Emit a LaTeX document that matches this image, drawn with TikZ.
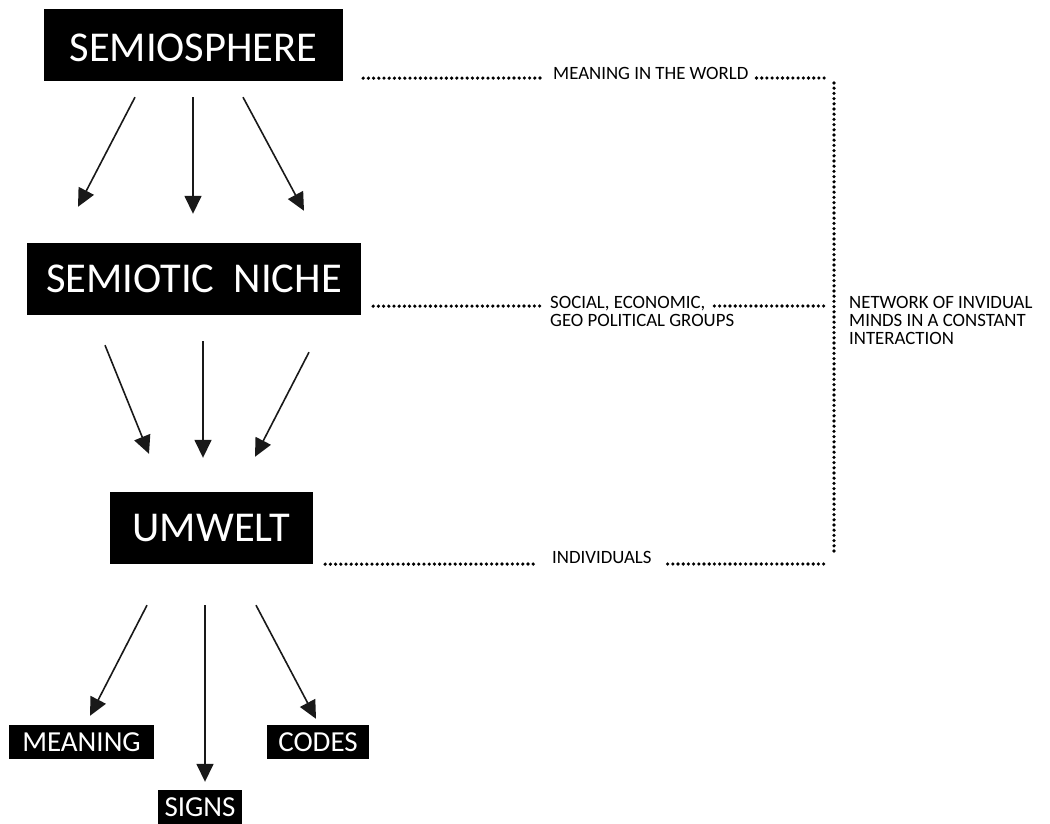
\documentclass[tikz,border=0pt]{standalone}
\usepackage{fontspec}
\setmainfont{Carlito}
\usetikzlibrary{positioning,arrows.meta}

\begin{document}
\begin{tikzpicture}[x=1pt, y=-1pt, >={Triangle[length=18pt,width=17pt]}]
      \tikzset{
        bigbox/.style={fill=black, text=white, inner sep=0pt, minimum height=72pt, font=\fontsize{42.5}{42.5}\selectfont},
        smallbox/.style={fill=black, text=white, inner sep=0pt, minimum height=34pt, font=\fontsize{29}{29}\selectfont},
        note/.style={inner sep=0pt, anchor=base west, align=left, font=\fontsize{18.8}{18}\selectfont},
        arrow/.style={->, line width=1.6pt, draw=black!90},
        dotline/.style={line width=3.6pt, line cap=round, dash pattern=on 0pt off 5.2pt}
      }
      \useasboundingbox (0,0) rectangle (1050,824);

      \node[bigbox, minimum width=299pt, text height=33pt, text depth=0pt] (sphere) at (193.5,45) {SEMIOSPHERE};
      \node[bigbox, minimum width=334pt] (niche) at (194,279) {SEMIOTIC\ \ NICHE};
      \node[bigbox, minimum width=203pt] (umwelt) at (211.5,528) {UMWELT};
      \node[smallbox, minimum width=145pt] (meaning) at (81.5,742) {MEANING};
      \node[smallbox, minimum width=102pt] (codes) at (318,742) {CODES};
      \node[smallbox, minimum width=84pt] (signs) at (200,807) {SIGNS};

      \node[note] (world) at (553,80) {MEANING IN THE WORLD};
      \node[note] (social) at (550,308) {SOCIAL, ECONOMIC,};
      \node[note] (geo) at (550,326) {GEO POLITICAL GROUPS};
      \node[note] (indiv) at (552,563) {INDIVIDUALS};
      \node[note] (network) at (849,344) {NETWORK OF INVIDUAL\\MINDS IN A CONSTANT\\INTERACTION};

      \coordinate (top) at (834,83);
      \coordinate (bottom) at (834,556);
      \coordinate (e1) at (828,78);
      \coordinate (e2) at (828,306);
      \coordinate (e3) at (828,564);

      \draw[arrow] ([shift={(-58.5pt,-16pt)}]sphere.south) -- ([shift={(-116pt,36pt)}]niche.north);
      \draw[arrow] ([shift={(-0.5pt,-16pt)}]sphere.south) -- ([shift={(-1pt,29pt)}]niche.north);
      \draw[arrow] ([shift={(49.5pt,-16pt)}]sphere.south) -- ([shift={(110pt,32pt)}]niche.north);

      \draw[arrow] ([shift={(-89pt,-30pt)}]niche.south) -- ([shift={(-62.5pt,38pt)}]umwelt.north);
      \draw[arrow] ([shift={(9pt,-26pt)}]niche.south) -- ([shift={(-8.5pt,34pt)}]umwelt.north);
      \draw[arrow] ([shift={(115pt,-37pt)}]niche.south) -- ([shift={(43.5pt,35pt)}]umwelt.north);

      \draw[arrow] ([shift={(-64.5pt,-41pt)}]umwelt.south) -- ([shift={(8.5pt,9pt)}]meaning.north);
      \draw[arrow] ([shift={(-6.5pt,-41pt)}]umwelt.south) -- ([shift={(5pt,8pt)}]signs.north);
      \draw[arrow] ([shift={(44.5pt,-41pt)}]umwelt.south) -- ([shift={(-2pt,6pt)}]codes.north);

      % dotted links to the right
      \draw[dotline] ([shift={(20pt,3pt)}]sphere.south east) -- ([xshift=-12pt]world.west |- e1);
      \draw[dotline] ([xshift=8pt]world.east |- e1) -- (e1);
      \draw[dotline] ([shift={(12pt,9pt)}]niche.south east) -- ([xshift=-10pt]social.west |- e2);
      \draw[dotline] ([xshift=9pt]social.east |- e2) -- (e2);
      \draw[dotline] ([shift={(12pt,0pt)}]umwelt.south east) -- ([xshift=-14pt]indiv.west |- e3);
      \draw[dotline] ([xshift=16pt]indiv.east |- e3) -- (e3);
      \draw[dotline] (top) -- (bottom);
    \end{tikzpicture}
\end{document}
